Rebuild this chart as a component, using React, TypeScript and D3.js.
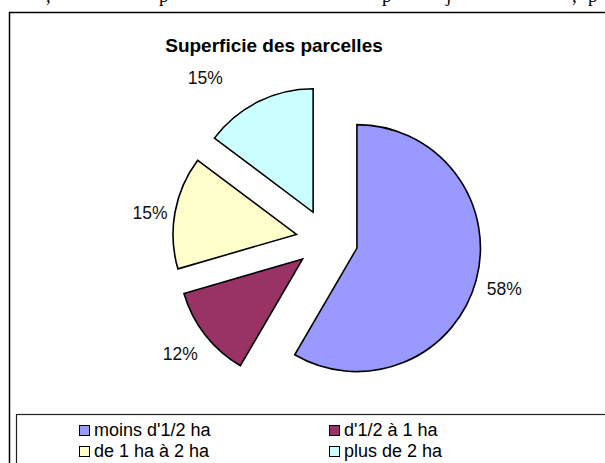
import React from "react";
import * as d3 from "d3";

const title = "Superficie des parcelles";
const categories = ["moins d'1/2 ha", "d'1/2 à 1 ha", "de 1 ha à 2 ha", "plus de 2 ha"];
const values = [58.4, 12.1, 14.75, 14.75];
const colors = ["#9999FF", "#993366", "#FFFFCC", "#CCFFFF"];
const topFragments = [",", "p", "p", "j", ",", "p"];
const topFragmentX = [46, 159, 382, 446, 572, 588];

const W = 605;
const H = 463;
const FONT = "'Liberation Sans', Arial, Helvetica, sans-serif";

export default function App() {
  const cx = 327;
  const cy = 240;
  const r = 123.5;
  const explode = 31;
  const labelDist = [153, 155, 148, 172];
  const labelAngleAdjust = [0.5, 0, -2, -12.3];

  const total = d3.sum(values);
  const pie = d3.pie<number>().sort(null).startAngle(0).endAngle(2 * Math.PI)(values);
  const arc = d3.arc<d3.PieArcDatum<number>>().innerRadius(0).outerRadius(r);

  const legendX = d3.scaleOrdinal<number, number>().domain([0, 1]).range([79, 329]);
  const legendY = d3.scaleOrdinal<number, number>().domain([0, 1]).range([425, 446]);

  return (
    <svg
      width={W}
      height={H}
      style={{ position: "absolute", left: 0, top: 0, background: "#fff" }}
    >
      <rect x={0} y={0} width={W} height={H} fill="#fff" />
      {topFragments.map((t, i) => (
        <text
          key={"tf" + i}
          x={topFragmentX[i]}
          y={2}
          fontFamily="'Liberation Serif', 'Times New Roman', serif"
          fontSize={19}
          fill="#000"
        >
          {t}
        </text>
      ))}
      <rect
        x={9.5}
        y={12.5}
        width={W + 20}
        height={H + 20}
        fill="#fff"
        stroke="#000"
        strokeWidth={1.5}
      />
      <text
        x={274}
        y={52}
        textAnchor="middle"
        fontFamily={FONT}
        fontWeight="bold"
        fontSize={19}
        fill="#000"
      >
        {title}
      </text>
      {pie.map((p, i) => {
        const mid = (p.startAngle + p.endAngle) / 2;
        const ox = cx + Math.sin(mid) * explode;
        const oy = cy - Math.cos(mid) * explode;
        const la = mid + (labelAngleAdjust[i] * Math.PI) / 180;
        const lx = ox + Math.sin(la) * labelDist[i];
        const ly = oy - Math.cos(la) * labelDist[i];
        return (
          <g key={"s" + i}>
            <path
              d={arc(p) || ""}
              transform={`translate(${ox},${oy})`}
              fill={colors[i]}
              stroke="#000"
              strokeWidth={1.6}
              strokeLinejoin="miter"
            />
            <text
              x={lx}
              y={ly + 6}
              textAnchor="middle"
              fontFamily={FONT}
              fontSize={17.5}
              fill="#111"
            >
              {Math.round((values[i] / total) * 100) + "%"}
            </text>
          </g>
        );
      })}
      <rect
        x={16.5}
        y={414.5}
        width={W + 20}
        height={H}
        fill="#fff"
        stroke="#222"
        strokeWidth={1.2}
      />
      {categories.map((c, i) => {
        const x = legendX(i % 2);
        const y = legendY(Math.floor(i / 2));
        return (
          <g key={"l" + i}>
            <rect x={x + 0.5} y={y + 0.5} width={10} height={10} fill={colors[i]} stroke="#000" strokeWidth={1} />
            <text x={x + 15} y={y + 11} fontFamily={FONT} fontSize={18} fill="#000">
              {c}
            </text>
          </g>
        );
      })}
    </svg>
  );
}
